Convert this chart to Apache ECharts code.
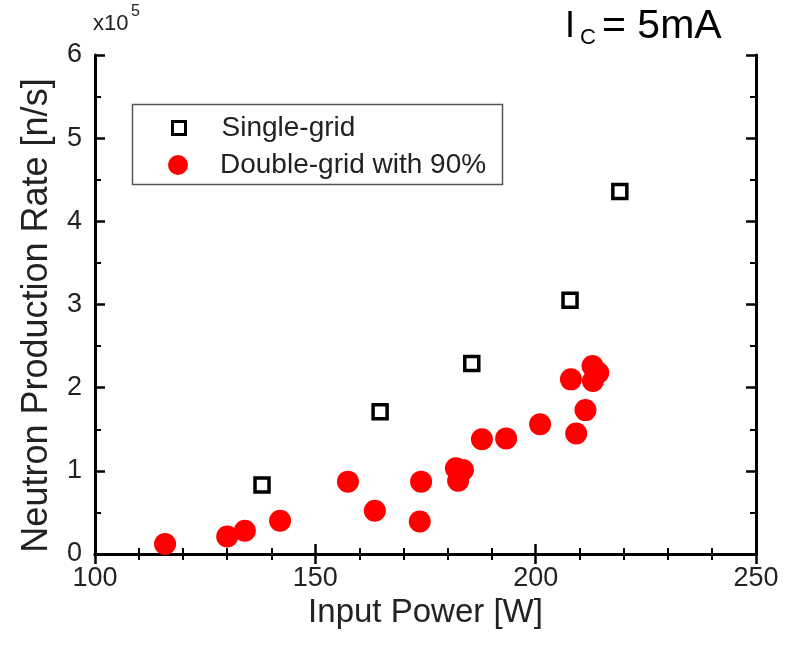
<!DOCTYPE html>
<html>
<head>
<meta charset="utf-8">
<script src="https://cdn.jsdelivr.net/npm/echarts@6/dist/echarts.min.js"></script>
<style>
  html, body { margin: 0; padding: 0; background: #fff; }
  #chart { width: 786px; height: 651px; }
</style>
</head>
<body>
<div id="chart"></div>
<script>
// input power [W] / neutron rate [x1e5 n/s]
var singlePower = [137.9, 164.7, 185.5, 207.8, 219.1];
var singleRate = [0.83, 1.71, 2.29, 3.05, 4.36];

var doublePower = [115.9, 130.0, 134.0, 142.0, 157.4, 163.5, 174.0, 173.7, 181.9, 183.5, 182.4,
  187.8, 193.3, 201.0, 208.0, 209.2, 211.3, 212.9, 214.2, 213.0];
var doubleRate = [0.12, 0.21, 0.28, 0.40, 0.87, 0.52, 0.87, 0.39, 1.03, 1.01, 0.88,
  1.38, 1.39, 1.56, 2.10, 1.45, 1.73, 2.26, 2.18, 2.08];

var xTicks = [100, 150, 200, 250];
var yTicks = [0, 1, 2, 3, 4, 5, 6];

var font = 'Liberation Sans, Arial, sans-serif';

function zip(a, b) {
  return a.map(function (v, i) { return [v, b[i]]; });
}

var chart = echarts.init(document.getElementById('chart'));

var frameLine = { show: true, lineStyle: { color: '#000', width: 3 } };
var majorTick = { inside: true, length: 10, lineStyle: { color: '#000', width: 2.5 } };
var minorTick = { show: true, length: 6, lineStyle: { color: '#000', width: 2 } };
var legendText = { fontFamily: font, fontSize: 28, color: '#222' };

chart.setOption({
  animation: false,
  backgroundColor: '#fff',
  grid: { left: 95, right: 30, top: 55, bottom: 97 },
  xAxis: [{
    type: 'value',
    min: xTicks[0], max: xTicks[xTicks.length - 1], interval: 50,
    name: 'Input Power [W]',
    nameLocation: 'middle', nameGap: 37,
    nameTextStyle: { fontFamily: font, fontSize: 33, color: '#222' },
    axisLine: frameLine,
    axisTick: majorTick,
    minorTick: Object.assign({ splitNumber: 5 }, minorTick),
    axisLabel: { fontFamily: font, fontSize: 27, color: '#222', margin: 11 },
    splitLine: { show: false }
  }, {
    type: 'value', position: 'top',
    min: xTicks[0], max: xTicks[xTicks.length - 1], interval: 50,
    axisLine: frameLine,
    axisTick: majorTick,
    minorTick: Object.assign({ splitNumber: 5 }, minorTick),
    axisLabel: { show: false },
    splitLine: { show: false }
  }],
  yAxis: [{
    type: 'value',
    min: yTicks[0], max: yTicks[yTicks.length - 1], interval: 1,
    name: 'Neutron Production Rate [n/s]',
    nameLocation: 'middle', nameGap: 40,
    nameTextStyle: { fontFamily: font, fontSize: 36, color: '#222', padding: [0, 22, 0, 0] },
    axisLine: frameLine,
    axisTick: majorTick,
    minorTick: Object.assign({ splitNumber: 2 }, minorTick),
    axisLabel: { fontFamily: font, fontSize: 27, color: '#222', margin: 13 },
    splitLine: { show: false }
  }, {
    type: 'value', position: 'right',
    min: yTicks[0], max: yTicks[yTicks.length - 1], interval: 1,
    axisLine: frameLine,
    axisTick: majorTick,
    minorTick: Object.assign({ splitNumber: 2 }, minorTick),
    axisLabel: { show: false },
    splitLine: { show: false }
  }],
  legend: [{
    left: 171, top: 114, padding: 0,
    itemWidth: 13, itemHeight: 13,
    textStyle: Object.assign({ padding: [0, 0, 0, 31] }, legendText),
    data: [{
      name: 'Single-grid',
      itemStyle: { color: '#fff', borderColor: '#000', borderWidth: 3 }
    }]
  }, {
    left: 168, top: 151, padding: 0,
    itemWidth: 20, itemHeight: 20,
    textStyle: Object.assign({ padding: [0, 0, 0, 27] }, legendText),
    data: ['Double-grid with 90%']
  }],
  graphic: [
    { type: 'rect', left: 130, top: 102, shape: { width: 370, height: 80 },
      style: { fill: 'none', stroke: '#555', lineWidth: 1.5 }, z: -1 },
    { type: 'text', left: 93, top: 13, style: { text: 'x10', font: '22px ' + font, fill: '#222' } },
    { type: 'text', left: 131, top: 4, style: { text: '5', font: '16px ' + font, fill: '#222' } },
    { type: 'text', left: 565, top: 9, style: { text: 'I', font: '36px ' + font, fill: '#000' } },
    { type: 'text', left: 580, top: 27, style: { text: 'C', font: '22px ' + font, fill: '#000' } },
    { type: 'text', left: 602, top: 6, style: { text: '= 5mA', font: '41px ' + font, fill: '#000' } }
  ],
  series: [{
    name: 'Double-grid with 90%',
    type: 'scatter',
    symbol: 'circle',
    symbolSize: 22,
    itemStyle: { color: '#f00', opacity: 1 },
    data: zip(doublePower, doubleRate),
    z: 3
  }, {
    name: 'Single-grid',
    type: 'scatter',
    symbol: 'rect',
    symbolSize: 14,
    itemStyle: { color: '#fff', borderColor: '#000', borderWidth: 3.5, opacity: 1 },
    data: zip(singlePower, singleRate),
    z: 4
  }]
});
</script>
</body>
</html>
